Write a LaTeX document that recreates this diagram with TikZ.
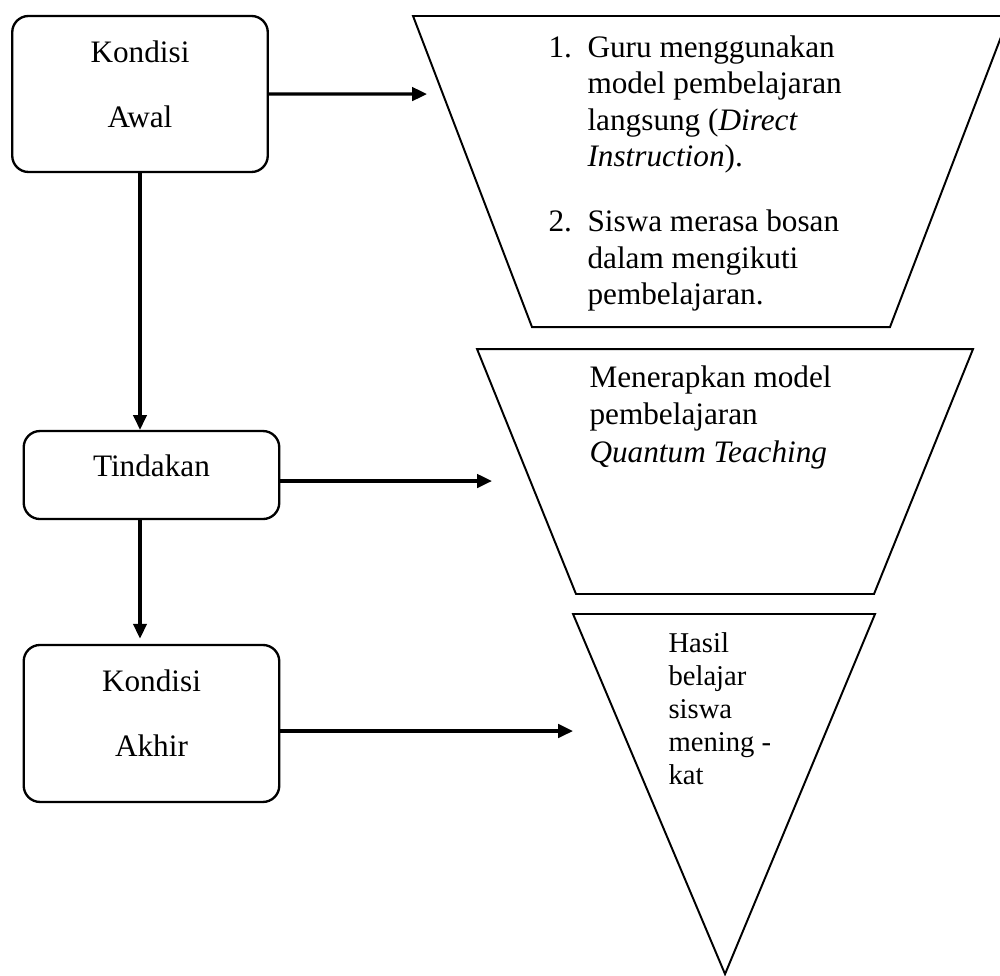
\documentclass[tikz,border=0pt]{standalone}
\usepackage{fontspec}
\setmainfont{Liberation Serif}
\usetikzlibrary{arrows.meta}

\tikzset{
    kotak/.style={draw, rounded corners=0.22cm, line width=0.9pt, align=center, inner xsep=0pt, inner ysep=0pt, minimum width=3.45cm},
    panah/.style={-{Triangle[length=0.2cm, width=0.18cm]}, line width=1.25pt},
    corong/.style={draw, line width=0.75pt, line join=miter},
    isi/.style={anchor=north west, align=left, inner sep=0pt}
}

\begin{document}
\begin{tikzpicture}[font=\fontsize{12}{14}\selectfont]
            \useasboundingbox (0,0) rectangle (13.5,-13.176);

            \node[kotak, text height=1.512cm, text depth=0.594cm] (awal) at (1.89,-1.269) {Kondisi\\[11pt]Awal};
            \node[kotak, text height=0.608cm, text depth=0.58cm] (tindakan) at (2.045,-6.413) {Tindakan};
            \node[kotak, text height=1.512cm, text depth=0.607cm] (akhir) at (2.045,-9.767) {Kondisi\\[11pt]Akhir};
            
            \draw[corong] (5.576,-0.216) -- (13.622,-0.216) -- (12.015,-4.415) -- (7.182,-4.415) -- cycle;
            \draw[corong] (6.44,-4.712) -- (13.136,-4.712) -- (11.799,-8.019) -- (7.776,-8.019) -- cycle;
            \draw[corong] (7.736,-8.289) -- (11.813,-8.289) -- (9.788,-13.15) -- cycle;
            
            \node[isi] (masalah) at (7.398,-0.4725) {\makebox[0.527cm][l]{1.}Guru menggunakan\\\hspace*{0.527cm}model pembelajaran\\\hspace*{0.527cm}langsung (\textit{Direct}\\\hspace*{0.527cm}\textit{Instruction}).\\[11pt]\makebox[0.527cm][l]{2.}Siswa merasa bosan\\\hspace*{0.527cm}dalam mengikuti\\\hspace*{0.527cm}pembelajaran.};
            \node[isi, font=\fontsize{12}{14.4}\selectfont] (solusi) at (7.952,-4.928) {Menerapkan model\\pembelajaran\\\textit{Quantum Teaching}};
            \node[isi, font=\fontsize{11}{12.7}\selectfont] (hasil) at (9.018,-8.532) {Hasil\\belajar\\siswa\\mening -\\kat};
            
            \coordinate (tipawal) at (5.765,-1.27);
            \coordinate (tiptindakan) at (6.642,-6.494);
            \coordinate (tipakhir) at (7.736,-9.869);
            
            \draw[panah] (awal.east) -- (tipawal);
            \draw[panah] (tindakan.east |- tiptindakan) -- (tiptindakan);
            \draw[panah] (akhir.east |- tipakhir) -- (tipakhir);
            
            \draw[panah] (awal.south) -- (awal.south |- tindakan.north);
            \draw[panah, shorten >=0.07cm] (awal.south |- tindakan.south) -- (awal.south |- akhir.north);
\end{tikzpicture}
\end{document}
